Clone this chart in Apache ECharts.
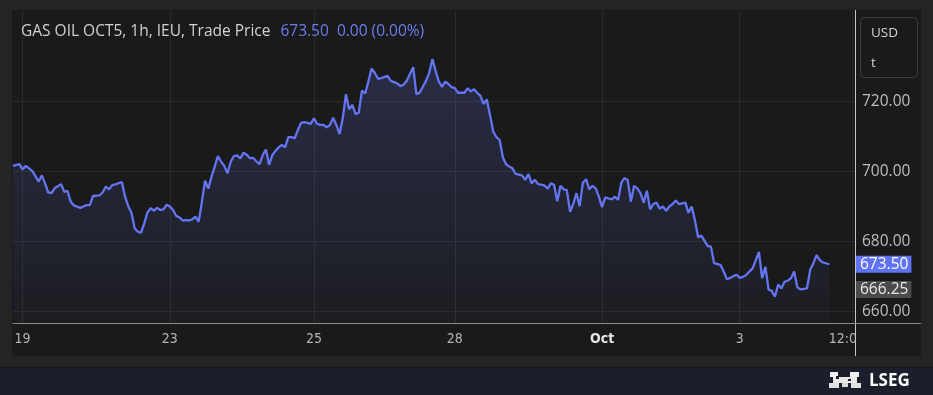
<!DOCTYPE html>
<html>
<head>
<meta charset="utf-8">
<script src="https://cdn.jsdelivr.net/npm/echarts@6/dist/echarts.min.js"></script>
<style>
html,body{margin:0;padding:0;background:#242424;}
#chart{width:933px;height:395px;}
</style>
</head>
<body>
<div id="chart"></div>
<script>
// hour index (trading hours from first bar) and trade price
const hours = [0,2,3,4,6,7,8,9,10,11,12,13,15,16,17,18,19,21,22,23,24,25,27,28,29,30,31,32,34,35,36,37,38,39,40,41,42,43,44,45,46,47,48,49,50,51,52,53,54,55,56,57,58,59,60,61,62,63,64,65,66,67,68,69,70,71,72,73,74,75,76,77,78,79,80,81,82,83,84,85,86,87,88,89,90,91,92,93,94,95,96,97,98,99,100,101,102,103,104,105,106,107,108,109,110,111,112,113,114,115,117,118,120,121,122,123,125,126,127,129,130,131,132,133,134,135,136,137,138,139,141,142,143,144,145,146,147,148,149,150,151,152,153,154,155,156,157,159,160,161,162,163,164,166,167,168,169,170,171,172,173,174,175,176,177,178,179,180,181,182,183,184,185,187,188,189,190,191,192,193,194,195,196,197,198,199,200,201,202,203,204,205,206,207,208,209,210,211,212,213,214,215,216,217,218,219,221,222,223,224,225,226,227,228,229,230,231,233,234,235,236,237,238,239,240,241,242,243,244,245,246,248,249,250,251,252,253,255];
const prices = [701.6,702.1,700.6,701.6,700.2,698.7,697.1,698.9,696.6,694.0,693.8,695.2,696.4,694.2,694.5,691.4,690.3,689.6,690.0,690.4,690.4,693.0,693.2,694.0,695.7,694.9,696.1,696.3,697.0,692.8,690.1,688.2,683.8,682.8,682.5,685.2,688.3,689.5,688.8,689.6,689.0,689.2,690.5,690.0,689.0,687.3,686.9,686.0,686.1,686.0,686.3,687.1,685.6,691.4,697.4,695.1,698.5,701.4,704.4,702.8,701.6,699.5,702.8,704.4,704.6,703.7,705.4,704.8,703.8,703.9,702.9,702.1,704.7,706.3,701.9,704.7,705.9,706.9,707.6,706.9,709.8,709.8,709.5,711.9,713.9,714.1,713.9,713.6,715.2,713.6,713.3,713.3,712.6,713.3,715.4,713.3,710.7,715.2,722.1,717.8,719.0,716.4,716.8,723.1,722.3,725.7,729.4,728.2,726.5,726.7,727.3,725.9,725.2,724.4,724.8,725.9,729.8,722.1,722.5,725.9,728.2,732.1,728.8,725.7,724.2,725.7,725.0,724.1,723.8,722.5,722.5,723.8,722.9,723.5,722.5,721.6,719.3,720.6,716.1,711.4,709.8,709.0,704.1,702.1,701.4,700.9,699.3,698.9,697.6,699.3,696.6,697.6,696.4,696.0,695.1,696.6,696.2,691.5,695.9,694.9,694.7,688.5,690.7,693.8,690.1,696.8,697.8,694.9,695.9,695.2,692.8,689.8,692.6,692.0,692.8,691.9,696.8,698.1,697.6,691.4,695.9,695.2,693.8,691.1,694.5,689.2,690.7,691.1,689.4,690.0,688.8,690.0,690.7,691.7,690.7,690.9,691.1,688.2,690.0,686.1,681.2,681.7,680.2,678.7,678.5,673.8,673.3,671.4,669.2,669.6,670.1,670.5,669.6,669.9,670.4,671.4,672.3,677.0,669.5,672.8,666.3,665.9,664.2,667.7,666.6,668.5,668.8,669.5,671.4,666.9,666.3,666.6,671.9,673.8,676.1,674.7,674.0,673.5];

const hourSlots = 264;                       // category slots on the time axis
const tickHours = [3, 49, 94, 138, 184, 227, 262];
const tickLabels = ['19', '23', '25', '28', 'Oct', '3', '12:00'];
const priceTicks = [660, 680, 700, 720];
const lastPrice = 673.50;
const refPrice = 666.25;
const titleText = 'GAS OIL OCT5, 1h, IEU, Trade Price';
const changeText = '673.50  0.00 (0.00%)';

const categories = Array.from({length: hourSlots}, (_, i) => String(i));
const seriesData = hours.map((h, i) => [h, prices[i]]);
const labelMap = {};
tickHours.forEach((h, i) => { labelMap[h] = tickLabels[i]; });

const chart = echarts.init(document.getElementById('chart'), null, {renderer: 'canvas'});
const plotBg = '#1a1a1a';
const gridColor = '#2a2a2a';
const condensed = "'Liberation Sans Narrow', 'DejaVu Sans Condensed', 'Roboto', sans-serif";

chart.setOption({
  backgroundColor: '#242424',
  animation: false,
  title: {
    left: 21, top: 23, padding: 0,
    text: '{a|' + titleText + '}  {b|' + changeText + '}',
    textStyle: {
      fontWeight: 'normal',
      rich: {
        a: {color: '#d1d1d1', fontSize: 15.5, fontWeight: 'normal', fontFamily: 'Open Sans'},
        b: {color: '#6b7ef0', fontSize: 15.5, fontWeight: 'normal', fontFamily: 'Open Sans'}
      }
    }
  },
  grid: {left: 13, right: 78, top: 11, bottom: 72},
  xAxis: {
    type: 'category',
    data: categories,
    boundaryGap: false,
    axisLine: {show: true, lineStyle: {color: '#8c8c8c', width: 1}},
    axisTick: {show: false},
    axisLabel: {
      interval: (idx) => labelMap[idx] !== undefined,
      formatter: (v, idx) => {
        const t = labelMap[idx];
        if (t === undefined) return '';
        if (t === 'Oct') return '{b|Oct}';
        if (t === '12:00') return '{e|12:00}';
        return t;
      },
      color: '#b4b4b4',
      fontSize: 14,
      fontFamily: condensed,
      margin: 9,
      rich: {
        b: {color: '#e6e6e6', fontWeight: 'bold', fontSize: 14, fontFamily: condensed},
        e: {color: '#b4b4b4', fontSize: 14, fontFamily: condensed, padding: [0, 10, 0, 0]}
      }
    },
    splitLine: {
      show: true,
      interval: (idx) => labelMap[idx] !== undefined,
      lineStyle: {color: gridColor, width: 1}
    }
  },
  yAxis: {
    type: 'value',
    position: 'right',
    min: 656.71,
    max: 745.86,
    axisLine: {show: false},
    axisTick: {show: false, customValues: priceTicks},
    axisLabel: {
      customValues: priceTicks,
      formatter: (v) => v.toFixed(2),
      color: '#bdbdbd',
      fontSize: 15.5,
      fontFamily: 'Open Sans',
      margin: 7
    },
    splitLine: {show: true, lineStyle: {color: gridColor, width: 1}}
  },
  series: [{
    type: 'line',
    data: seriesData,
    showSymbol: false,
    symbol: 'none',
    lineStyle: {color: '#6375f3', width: 2.3},
    areaStyle: {
      color: new echarts.graphic.LinearGradient(0, 0, 0, 1, [
        {offset: 0, color: 'rgba(99,117,243,0.29)'},
        {offset: 1, color: 'rgba(99,117,243,0.05)'}
      ])
    },
    z: 3,
    markLine: {
      silent: true,
      symbol: 'none',
      lineStyle: {color: 'rgba(0,0,0,0)', width: 0, type: 'solid'},
      label: {
        show: true,
        position: 'end',
        distance: 1,
        fontSize: 15.5,
        fontFamily: 'Open Sans',
        padding: [1, 3, 0, 4],
        formatter: (p) => Number(p.value).toFixed(2)
      },
      data: [
        {yAxis: lastPrice, label: {backgroundColor: '#6073f8', color: '#ffffff'}},
        {yAxis: refPrice, label: {backgroundColor: '#4b4b4b', color: '#e8e8e8'}}
      ]
    }
  }],
  graphic: [
    {type: 'rect', z: -10, silent: true, shape: {x: 12, y: 10, width: 909, height: 346}, style: {fill: plotBg}},
    {type: 'rect', z: 50, silent: true, shape: {x: 856, y: 324, width: 65, height: 32}, style: {fill: plotBg}},
    {type: 'line', z: 60, silent: true, shape: {x1: 855.5, y1: 10, x2: 855.5, y2: 356}, style: {stroke: '#c8c8c8', lineWidth: 1}},
    {type: 'line', z: 60, silent: true, shape: {x1: 855, y1: 323.5, x2: 921, y2: 323.5}, style: {stroke: '#8c8c8c', lineWidth: 1}},
    {type: 'rect', z: 60, silent: true, shape: {x: 860.5, y: 17.5, width: 57, height: 60, r: 4}, style: {fill: 'none', stroke: '#3c3c3c', lineWidth: 1}},
    {type: 'text', z: 61, silent: true, style: {x: 871, y: 33, text: 'USD', fill: '#d4d4d4', font: '13.5px "Open Sans"', textVerticalAlign: 'middle'}},
    {type: 'text', z: 61, silent: true, style: {x: 871, y: 63, text: 't', fill: '#d4d4d4', font: '13.5px "Open Sans"', textVerticalAlign: 'middle'}},
    {type: 'rect', z: -10, silent: true, shape: {x: 0, y: 368, width: 933, height: 27}, style: {fill: '#1c1f2b'}},
    {type: 'line', z: -9, silent: true, shape: {x1: 0, y1: 367.5, x2: 933, y2: 367.5}, style: {stroke: '#151515', lineWidth: 1}},
    {type: 'text', z: 61, silent: true, style: {x: 869, y: 381, text: 'LSEG', fill: '#ffffff', font: 'bold 17px "Open Sans"', textVerticalAlign: 'middle'}},
    {type: 'group', z: 61, silent: true, children: [
      {type: 'rect', shape: {x: 830, y: 372, width: 8, height: 5}, style: {fill: '#f0f0f0'}},
      {type: 'rect', shape: {x: 850, y: 372, width: 9, height: 5}, style: {fill: '#f0f0f0'}},
      {type: 'rect', shape: {x: 833, y: 377, width: 24, height: 6}, style: {fill: '#e8e8e8'}},
      {type: 'rect', shape: {x: 829, y: 383, width: 10, height: 5}, style: {fill: '#e0e0e0'}},
      {type: 'rect', shape: {x: 842, y: 383, width: 6, height: 4}, style: {fill: '#d8d8d8'}},
      {type: 'rect', shape: {x: 851, y: 383, width: 10, height: 5}, style: {fill: '#e0e0e0'}},
      {type: 'rect', shape: {x: 836, y: 376, width: 3, height: 3}, style: {fill: '#1c1f2b'}},
      {type: 'rect', shape: {x: 848, y: 379, width: 3, height: 2}, style: {fill: '#1c1f2b'}}
    ]}
  ]
});
</script>
</body>
</html>
